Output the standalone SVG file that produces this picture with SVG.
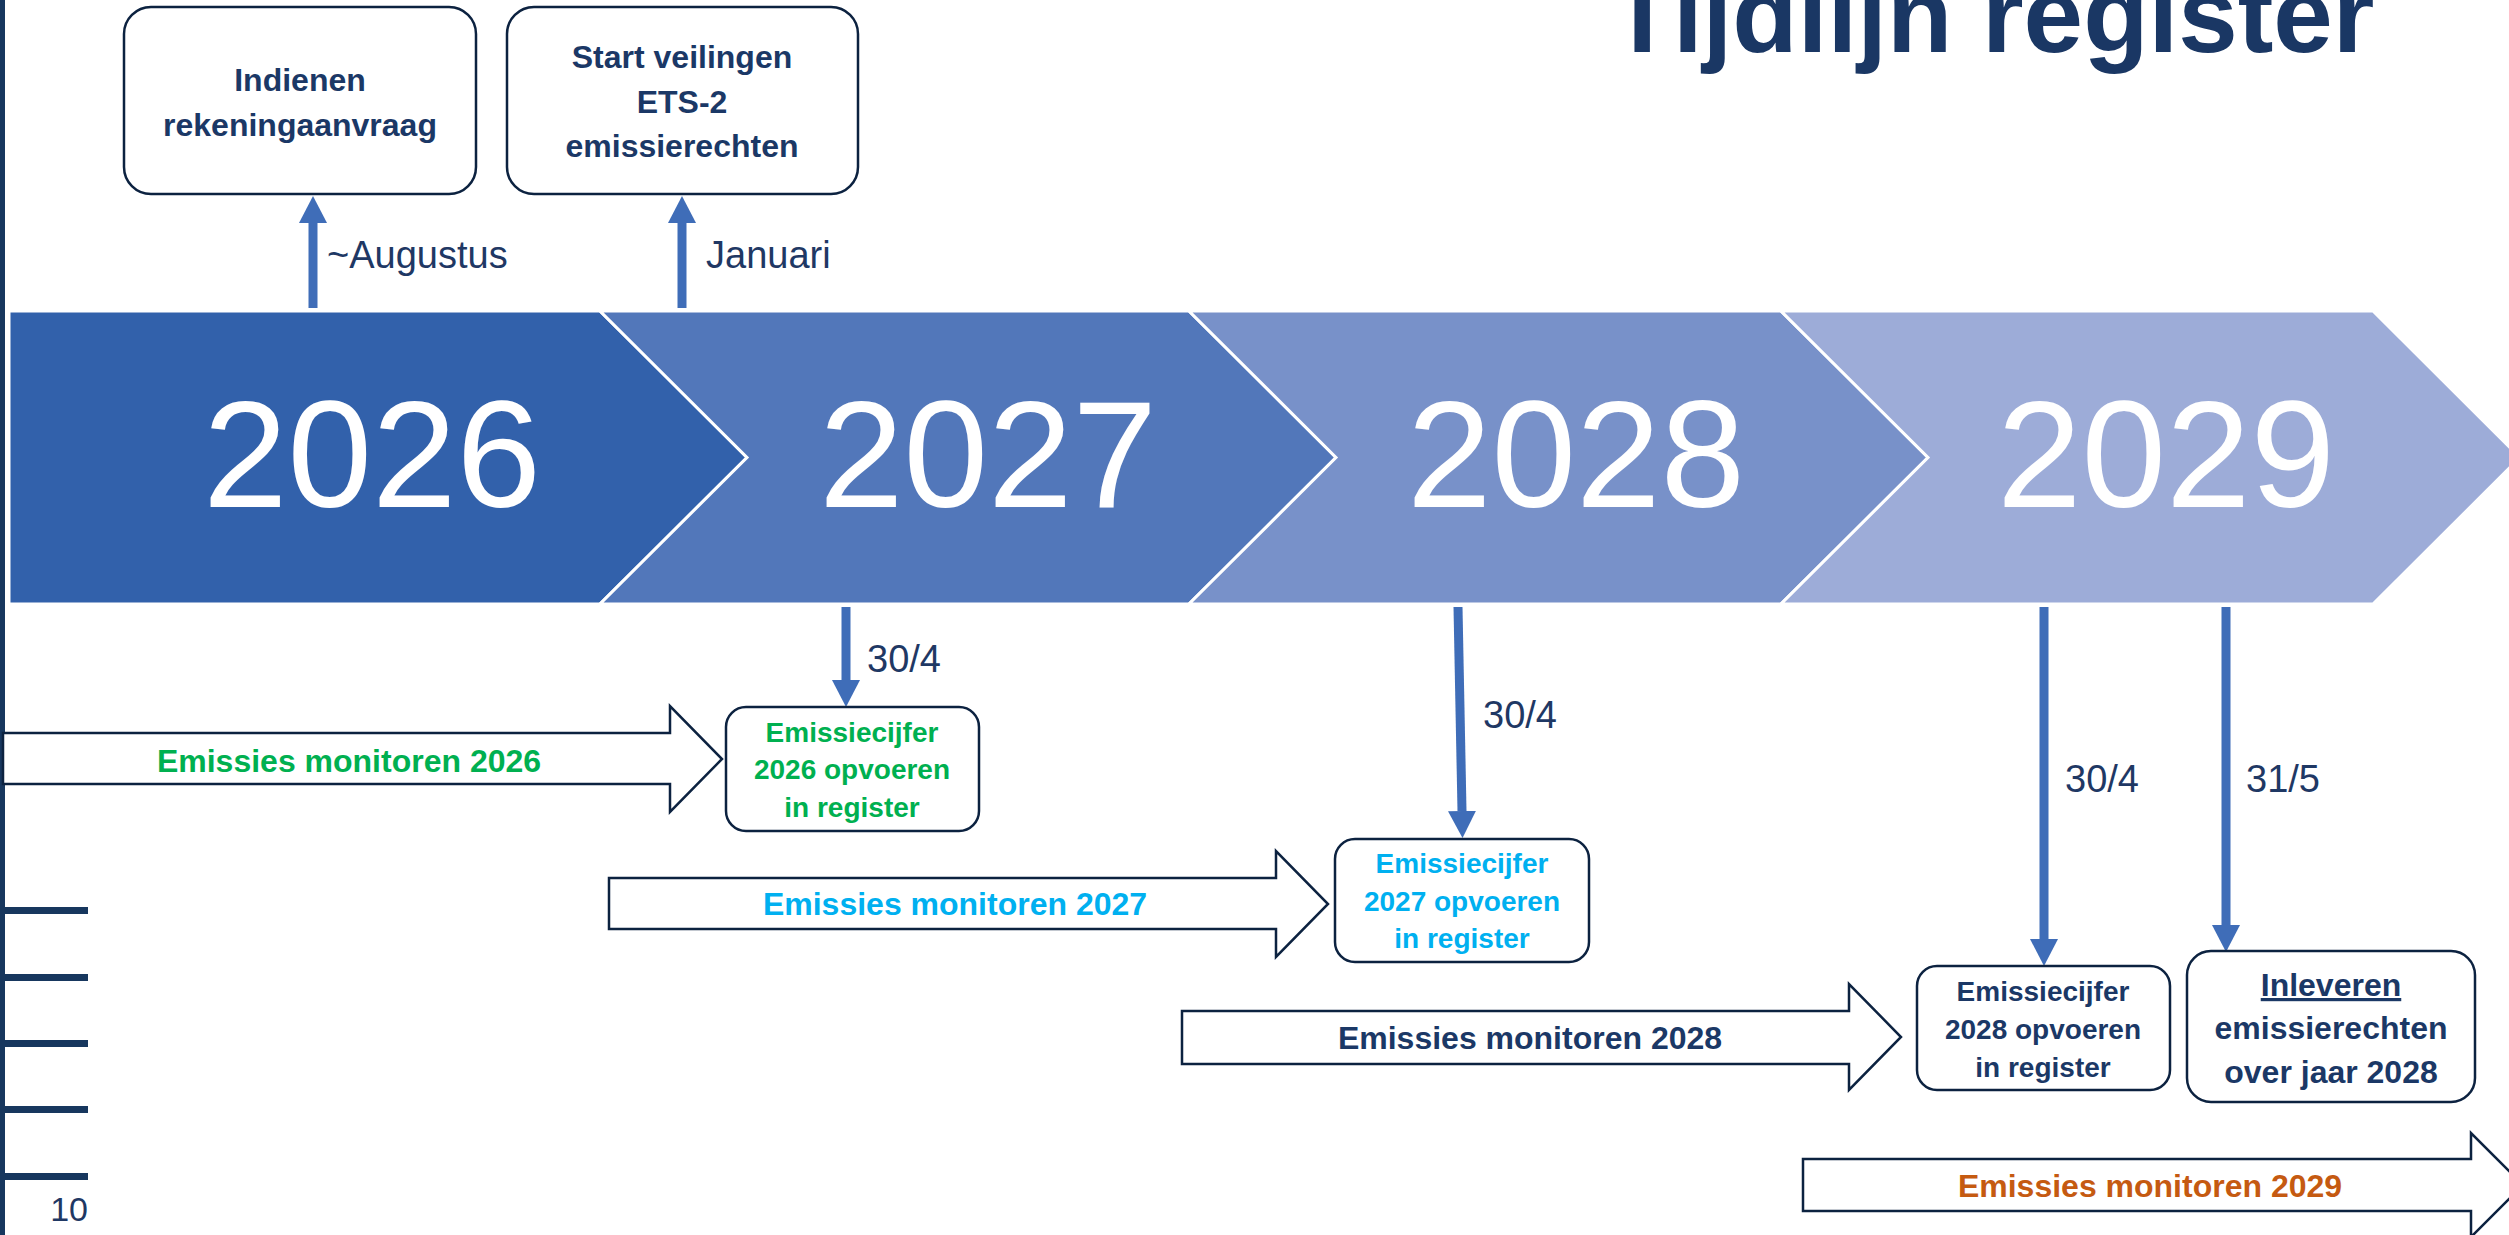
<svg xmlns="http://www.w3.org/2000/svg" width="2509" height="1235" viewBox="0 0 2509 1235">
<defs>
<style>
.chev{stroke:#ffffff;stroke-width:3}
.year{font-family:"Liberation Sans",Arial,sans-serif;font-size:152px;fill:#ffffff;text-anchor:middle}
.box{fill:#ffffff;stroke:#0c2240;stroke-width:2.5}
.bt{font-family:"Liberation Sans",Arial,sans-serif;font-weight:bold;text-anchor:middle}
.big{font-size:32px}
.small{font-size:28px}
.lbl{font-family:"Liberation Sans",Arial,sans-serif;font-size:38px;fill:#1f3864}
.conn{stroke:#3f6db8;stroke-width:9;fill:none}
.blk{fill:#ffffff;stroke:#0c2240;stroke-width:2.5}
.navy{fill:#1b3866}
</style>
<marker id="ah" viewBox="0 0 27 28" refX="0" refY="14" markerWidth="27" markerHeight="28" markerUnits="userSpaceOnUse" orient="auto">
<path d="M0,0 L27,14 L0,28 z" fill="#3f6db8"/>
</marker>
</defs>
<rect width="2509" height="1235" fill="#ffffff"/>

<g id="title">
<text x="1992" y="52" font-family="Liberation Sans,Arial,sans-serif" font-weight="bold" font-size="107" fill="#1a3764" text-anchor="middle">Tijdlijn register</text>
</g>

<g id="ruler" fill="#17375e">
<rect x="0" y="0" width="5" height="1235"/>
<rect x="0" y="907" width="88" height="7"/>
<rect x="0" y="974" width="88" height="7"/>
<rect x="0" y="1040" width="88" height="7"/>
<rect x="0" y="1106" width="88" height="7"/>
<rect x="0" y="1173" width="88" height="7"/>
<text x="88" y="1221" font-family="Liberation Sans,Arial,sans-serif" font-size="34" fill="#1f3864" text-anchor="end">10</text>
</g>

<g id="year-2026">
<polygon class="chev" fill="#3261ab" points="9,311 600,311 747,457.5 600,604 9,604"/>
<text class="year" x="372" y="507">2026</text>
</g>
<g id="year-2027">
<polygon class="chev" fill="#5277ba" points="600,311 1189,311 1336,457.5 1189,604 600,604 747,457.5"/>
<text class="year" x="988" y="507">2027</text>
</g>
<g id="year-2028">
<polygon class="chev" fill="#7891c9" points="1189,311 1781,311 1928,457.5 1781,604 1189,604 1336,457.5"/>
<text class="year" x="1576" y="507">2028</text>
</g>
<g id="year-2029">
<polygon class="chev" fill="#9dacd8" points="1781,311 2373,311 2520,457.5 2373,604 1781,604 1928,457.5"/>
<text class="year" x="2166" y="507">2029</text>
</g>

<g id="connectors">
<line class="conn" x1="313" y1="308" x2="313" y2="223" marker-end="url(#ah)"/>
<line class="conn" x1="682" y1="308" x2="682" y2="223" marker-end="url(#ah)"/>
<line class="conn" x1="846" y1="607" x2="846" y2="680" marker-end="url(#ah)"/>
<line class="conn" x1="1458" y1="607" x2="1462" y2="811" marker-end="url(#ah)"/>
<line class="conn" x1="2044" y1="607" x2="2044" y2="939" marker-end="url(#ah)"/>
<line class="conn" x1="2226" y1="607" x2="2226" y2="925" marker-end="url(#ah)"/>
<text class="lbl" x="327" y="268">~Augustus</text>
<text class="lbl" x="706" y="268">Januari</text>
<text class="lbl" x="867" y="672">30/4</text>
<text class="lbl" x="1483" y="728">30/4</text>
<text class="lbl" x="2065" y="792">30/4</text>
<text class="lbl" x="2246" y="792">31/5</text>
</g>

<g id="box-indienen">
<rect class="box" x="124" y="7" width="352" height="187" rx="27"/>
<text class="bt big navy" x="300" y="91">Indienen</text>
<text class="bt big navy" x="300" y="136">rekeningaanvraag</text>
</g>
<g id="box-start-veilingen">
<rect class="box" x="507" y="7" width="351" height="187" rx="27"/>
<text class="bt big navy" x="682" y="68">Start veilingen</text>
<text class="bt big navy" x="682" y="113">ETS-2</text>
<text class="bt big navy" x="682" y="157">emissierechten</text>
</g>

<g id="monitor-2026">
<polygon class="blk" points="3,733 670,733 670,706 722,759 670,812 670,784 3,784"/>
<text class="bt big" fill="#00b050" x="349" y="772">Emissies monitoren 2026</text>
</g>
<g id="box-2026">
<rect class="box" x="726" y="707" width="253" height="124" rx="20"/>
<text class="bt small" fill="#00b050" x="852" y="742">Emissiecijfer</text>
<text class="bt small" fill="#00b050" x="852" y="779">2026 opvoeren</text>
<text class="bt small" fill="#00b050" x="852" y="817">in register</text>
</g>

<g id="monitor-2027">
<polygon class="blk" points="609,878 1276,878 1276,851 1328,904 1276,957 1276,929 609,929"/>
<text class="bt big" fill="#00b0f0" x="955" y="915">Emissies monitoren 2027</text>
</g>
<g id="box-2027">
<rect class="box" x="1335" y="839" width="254" height="123" rx="20"/>
<text class="bt small" fill="#00b0f0" x="1462" y="873">Emissiecijfer</text>
<text class="bt small" fill="#00b0f0" x="1462" y="911">2027 opvoeren</text>
<text class="bt small" fill="#00b0f0" x="1462" y="948">in register</text>
</g>

<g id="monitor-2028">
<polygon class="blk" points="1182,1011 1849,1011 1849,984 1901,1037 1849,1090 1849,1064 1182,1064"/>
<text class="bt big navy" x="1530" y="1049">Emissies monitoren 2028</text>
</g>
<g id="box-2028">
<rect class="box" x="1917" y="966" width="253" height="124" rx="20"/>
<text class="bt small navy" x="2043" y="1001">Emissiecijfer</text>
<text class="bt small navy" x="2043" y="1039">2028 opvoeren</text>
<text class="bt small navy" x="2043" y="1077">in register</text>
</g>
<g id="box-inleveren">
<rect class="box" x="2187" y="951" width="288" height="151" rx="24"/>
<text class="bt big navy" x="2331" y="996" text-decoration="underline">Inleveren</text>
<text class="bt big navy" x="2331" y="1039">emissierechten</text>
<text class="bt big navy" x="2331" y="1083">over jaar 2028</text>
</g>

<g id="monitor-2029">
<polygon class="blk" points="1803,1159 2471,1159 2471,1133 2523,1185 2471,1237 2471,1211 1803,1211"/>
<text class="bt big" fill="#c55a11" x="2150" y="1197">Emissies monitoren 2029</text>
</g>
</svg>
